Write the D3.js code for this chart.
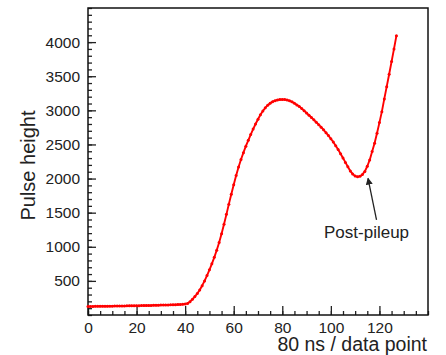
<!DOCTYPE html>
<html>
<head>
    <script src="https://d3js.org/d3.v7.min.js"></script>
    <style>
        body { margin: 0; background: #fff; }
        text { font-family: "Liberation Sans", Arial, sans-serif; fill: #222; }
    </style>
</head>
<body>
    <script>
        // data: one sample per 80 ns
        const samples = d3.range(0, 128);
        const pulse = [
            125, 126, 126, 127, 127, 128, 128, 129, 129, 130,
            130, 131, 131, 132, 133, 133, 134, 135, 135, 136,
            137, 137, 138, 139, 140, 140, 141, 142, 143, 144,
            145, 146, 147, 148, 149, 150, 151, 153, 155, 158,
            163, 170, 195, 230, 270, 315, 367, 430, 500, 578,
            662, 750, 845, 950, 1062, 1190, 1330, 1475, 1625, 1770,
            1910, 2045, 2170, 2280, 2380, 2475, 2560, 2645, 2725, 2800,
            2870, 2935, 2990, 3037, 3075, 3105, 3127, 3142, 3152, 3158,
            3160, 3158, 3152, 3140, 3124, 3103, 3080, 3055, 3027, 2995,
            2960, 2928, 2895, 2861, 2826, 2790, 2753, 2714, 2673, 2630,
            2584, 2535, 2482, 2425, 2365, 2302, 2237, 2172, 2112, 2065,
            2036, 2028, 2035, 2060, 2105, 2180, 2273, 2395, 2518, 2664,
            2820, 2981, 3167, 3347, 3529, 3714, 3900, 4095
        ];
        const xTicks = [0, 20, 40, 60, 80, 100, 120];
        const yTicks = [500, 1000, 1500, 2000, 2500, 3000, 3500, 4000];
        const note = { label: "Post-pileup", tip: [115.3, 2004], tail: [118.8, 1393], text: [114.7, 1129] };

        const data = samples.map((s, i) => ({ x: s, y: pulse[i] }));

        const svg = d3.select("body")
            .append("svg")
            .attr("width", 446)
            .attr("height", 355);
        const margin = { top: 8, right: 18, bottom: 40, left: 88 };
        const width = 446 - margin.left - margin.right;
        const height = 355 - margin.top - margin.bottom;
        const chart = svg.append("g")
            .attr("transform", `translate(${margin.left},${margin.top})`);

        const xScale = d3.scaleLinear().domain([0, 140]).range([0, width]);
        const yScale = d3.scaleLinear().domain([0, 4500]).range([height, 0]);

        // minor ticks point inward, like the major ones
        const xAxisMinor = d3.axisBottom(xScale).tickValues(d3.range(0, 141, 5)).tickSize(-4).tickFormat("");
        const xAxis = d3.axisBottom(xScale).tickValues(xTicks).tickSize(-9).tickPadding(7).tickFormat(d3.format("d"));
        const yAxisMinor = d3.axisLeft(yScale).tickValues(d3.range(0, 4501, 100)).tickSize(-4).tickFormat("");
        const yAxis = d3.axisLeft(yScale).tickValues(yTicks).tickSize(-8).tickPadding(8).tickFormat(d3.format("d"));

        [xAxisMinor, xAxis].forEach(ax => {
            chart.append("g")
                .attr("class", "axis")
                .attr("transform", `translate(0,${height})`)
                .call(ax);
        });
        [yAxisMinor, yAxis].forEach(ax => {
            chart.append("g")
                .attr("class", "axis")
                .call(ax);
        });
        chart.selectAll(".axis .domain").remove();
        chart.selectAll(".axis line").attr("stroke", "#222").attr("stroke-width", 1.3);
        chart.selectAll(".axis text")
            .style("font-size", "15.5px")
            .style("font-family", "Liberation Sans, Arial, sans-serif")
            .attr("fill", "#222");

        // frame
        chart.append("rect")
            .attr("width", width)
            .attr("height", height)
            .attr("fill", "none")
            .attr("stroke", "#111")
            .attr("stroke-width", 1.5);

        // pulse line
        const line = d3.line()
            .x(d => xScale(d.x))
            .y(d => yScale(d.y));

        chart.append("path")
            .datum(data)
            .attr("fill", "none")
            .attr("stroke", "#ff0000")
            .attr("stroke-width", 1.9)
            .attr("stroke-linejoin", "round")
            .attr("d", line);

        chart.selectAll(".pt")
            .data(data)
            .join("circle")
            .attr("class", "pt")
            .attr("cx", d => xScale(d.x))
            .attr("cy", d => yScale(d.y))
            .attr("r", 1.5)
            .attr("fill", "#ff0000");

        // annotation arrow
        svg.append("defs").append("marker")
            .attr("id", "arrow")
            .attr("viewBox", "0 0 10 10")
            .attr("refX", 9)
            .attr("refY", 5)
            .attr("markerWidth", 7)
            .attr("markerHeight", 7)
            .attr("markerUnits", "userSpaceOnUse")
            .attr("orient", "auto")
            .append("path")
            .attr("d", "M0,0 L10,5 L0,10 z")
            .attr("fill", "#222");

        chart.append("line")
            .attr("x1", xScale(note.tail[0]))
            .attr("y1", yScale(note.tail[1]))
            .attr("x2", xScale(note.tip[0]))
            .attr("y2", yScale(note.tip[1]))
            .attr("stroke", "#222")
            .attr("stroke-width", 1.3)
            .attr("marker-end", "url(#arrow)");

        chart.append("text")
            .attr("x", xScale(note.text[0]))
            .attr("y", yScale(note.text[1]))
            .attr("text-anchor", "middle")
            .style("font-size", "17px")
            .text(note.label);

        // axis titles
        svg.append("text")
            .attr("transform", `translate(35,${margin.top + height / 2 + 4}) rotate(-90)`)
            .attr("text-anchor", "middle")
            .style("font-size", "20px")
            .text("Pulse height");

        svg.append("text")
            .attr("x", 427)
            .attr("y", 351)
            .attr("text-anchor", "end")
            .style("font-size", "19.5px")
            .text("80 ns / data point");
    </script>
</body>
</html>
